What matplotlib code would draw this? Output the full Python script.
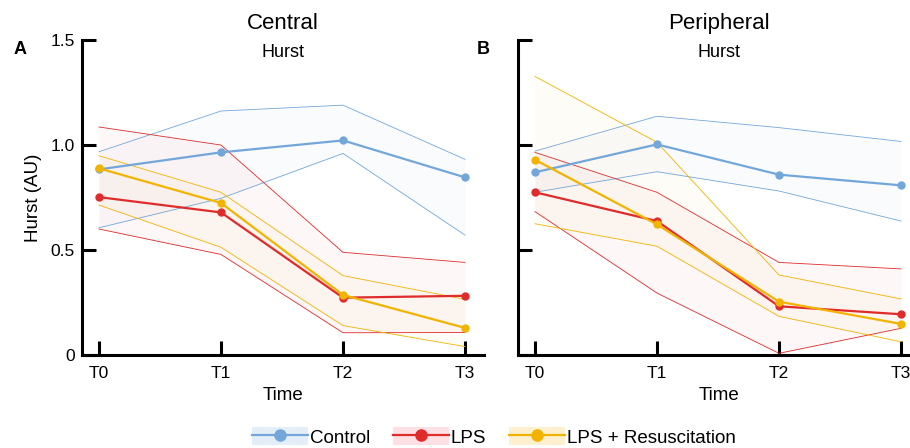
#! /usr/bin/env python3

#A program to redraw the Hurst exponent time courses (central and peripheral).

import numpy as np
import matplotlib
matplotlib.use('Agg')
import matplotlib.pyplot as plt
from matplotlib.patches import Patch
from matplotlib.lines import Line2D
from matplotlib.legend_handler import HandlerTuple

#Time points shared by both panels.
timeLabels = ['T0', 'T1', 'T2', 'T3']
groupNames = ['Control', 'LPS', 'LPS + Resuscitation']

#Central - mean, upper and lower band values for each group.
centralMean = {'Control': [0.884, 0.965, 1.022, 0.846],
               'LPS': [0.752, 0.679, 0.273, 0.282],
               'LPS + Resuscitation': [0.889, 0.724, 0.286, 0.129]}
centralUpper = {'Control': [0.968, 1.162, 1.190, 0.932],
                'LPS': [1.086, 1.000, 0.489, 0.441],
                'LPS + Resuscitation': [0.949, 0.775, 0.378, 0.265]}
centralLower = {'Control': [0.606, 0.746, 0.960, 0.571],
                'LPS': [0.600, 0.479, 0.106, 0.107],
                'LPS + Resuscitation': [0.714, 0.513, 0.140, 0.040]}

#Peripheral - mean, upper and lower band values for each group.
periphMean = {'Control': [0.870, 1.003, 0.859, 0.808],
              'LPS': [0.775, 0.638, 0.232, 0.194],
              'LPS + Resuscitation': [0.930, 0.622, 0.254, 0.148]}
periphUpper = {'Control': [0.971, 1.137, 1.083, 1.017],
               'LPS': [0.965, 0.775, 0.441, 0.410],
               'LPS + Resuscitation': [1.327, 1.013, 0.381, 0.267]}
periphLower = {'Control': [0.775, 0.873, 0.781, 0.638],
               'LPS': [0.683, 0.295, 0.008, 0.127],
               'LPS + Resuscitation': [0.625, 0.518, 0.184, 0.063]}

yTicks = [0, 0.5, 1.0, 1.5]
yTickLabels = ['0', '0.5', '1.0', '1.5']

lineColors = {'Control': '#73a7d9', 'LPS': '#e02b2b', 'LPS + Resuscitation': '#f2b400'}
legendFill = {'Control': '#e4eef8', 'LPS': '#fde0e4', 'LPS + Resuscitation': '#fdf0cf'}

##################################################################################

def drawPanel(ax, meanSet, upperSet, lowerSet, showYLabels) :

  x = np.arange(len(timeLabels))

  #Draw each group: band edges, a faint fill and the mean line.
  for name in groupNames :
    c = lineColors[name]
    ax.fill_between(x, lowerSet[name], upperSet[name], color = c, alpha = 0.035, lw = 0)
    ax.plot(x, upperSet[name], color = c, lw = 0.6)
    ax.plot(x, lowerSet[name], color = c, lw = 0.6)
    ax.plot(x, meanSet[name], color = c, lw = 1.6, marker = 'o', ms = 5, zorder = 5)
  #End of for loop - for name in groupNames :

  ax.set_xlim(-0.139, 3.156)
  ax.set_ylim(0, 1.5)
  ax.set_xticks(x)
  ax.set_xticklabels(timeLabels)
  ax.set_yticks(yTicks)
  if showYLabels :
    ax.set_yticklabels(yTickLabels)
  else :
    ax.set_yticklabels([])

  for side in ['top', 'right'] :
    ax.spines[side].set_visible(False)
  for side in ['left', 'bottom'] :
    ax.spines[side].set_linewidth(2.2)
  ax.tick_params(axis = 'both', direction = 'in', length = 10, width = 2.2,
                 labelsize = 12.5, colors = 'black')
  ax.tick_params(axis = 'x', pad = 8)
  ax.tick_params(axis = 'y', pad = 5)
  ax.set_xlabel('Time', fontsize = 13.5, labelpad = 4)
  ax.set_facecolor('none')
#End of the function drawPanel

##################################################################################

def main() :

  plt.rcParams['font.family'] = ['Liberation Sans', 'DejaVu Sans']

  fig = plt.figure(figsize = (9.1, 4.48), dpi = 100)
  axA = fig.add_axes([0.0901, 0.2076, 0.4418, 0.703])
  axB = fig.add_axes([0.5692, 0.2076, 0.4418, 0.703])

  drawPanel(axA, centralMean, centralUpper, centralLower, True)
  drawPanel(axB, periphMean, periphUpper, periphLower, False)

  axA.set_ylabel('Hurst (AU)', fontsize = 13.5, labelpad = 6)

  #Titles and subtitles.
  for ax, titleStr in [(axA, 'Central'), (axB, 'Peripheral')] :
    ax.text(0.5, 1.051, titleStr, transform = ax.transAxes, ha = 'center', va = 'center',
            fontsize = 16)
    ax.text(0.5, 0.962, 'Hurst', transform = ax.transAxes, ha = 'center', va = 'center',
            fontsize = 13)

  #Panel letters.
  fig.text(20/910, 1 - 50/448, 'A', fontsize = 13, fontweight = 'bold', ha = 'center', va = 'center')
  fig.text(483/910, 1 - 50/448, 'B', fontsize = 13, fontweight = 'bold', ha = 'center', va = 'center')

  #Legend with a light box behind each line handle.
  handles = []
  for name in groupNames :
    bg = Patch(facecolor = legendFill[name], edgecolor = 'none')
    ln = Line2D([], [], color = lineColors[name], lw = 1.6, marker = 'o', ms = 8)
    handles.append((bg, ln))
  #End of for loop - for name in groupNames :

  fig.legend(handles, groupNames, loc = 'center', bbox_to_anchor = (494/910, 1 - 437/448),
             ncol = 3, frameon = False, fontsize = 13.5, handlelength = 3.0, handleheight = 1.1,
             handletextpad = 0.1, columnspacing = 1.2,
             handler_map = {tuple: HandlerTuple(ndivide = 1, pad = 0)})

  fig.savefig('out.png', dpi = 100)
#End of the function main

if __name__ == '__main__':
  main()
